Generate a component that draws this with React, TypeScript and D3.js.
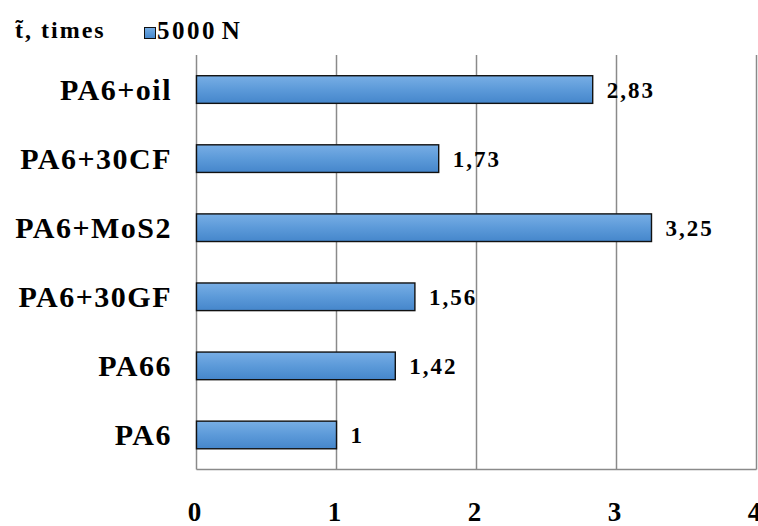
import React from "react";
import * as d3 from "d3";

// Categories listed top to bottom as they appear on the chart
const categories: string[] = ["PA6+oil", "PA6+30CF", "PA6+MoS2", "PA6+30GF", "PA66", "PA6"];
const values: number[] = [2.83, 1.73, 3.25, 1.56, 1.42, 1];
const valueLabels: string[] = ["2,83", "1,73", "3,25", "1,56", "1,42", "1"];
const xTicks: number[] = [0, 1, 2, 3, 4];
const seriesName = "5000 N";
const axisTitle = "t\u0303, times";

const W = 758;
const H = 526;
const plot = { left: 196.5, right: 756.5, top: 55, bottom: 469.5 };
const FONT = "Liberation Serif, DejaVu Serif, serif";

export default function App() {
  const x = d3.scaleLinear().domain([0, 4]).range([plot.left, plot.right]);
  const y = d3
    .scaleBand<string>()
    .domain(categories)
    .range([plot.top, plot.bottom])
    .paddingInner(0.6)
    .paddingOuter(0.3);

  const grid = "#8a8a8a";
  const txt: React.CSSProperties = { fontFamily: FONT, fontWeight: 700 };

  return (
    <svg
      width={W}
      height={H}
      style={{ position: "absolute", left: 0, top: 0, background: "#fff" }}
    >
      <defs>
        <linearGradient id="barFill" x1="0" y1="0" x2="0" y2="1">
          <stop offset="0" stopColor="#78aee5" />
          <stop offset="0.5" stopColor="#5c9ad9" />
          <stop offset="1" stopColor="#4586cb" />
        </linearGradient>
      </defs>
      <rect x={0} y={0} width={W} height={H} fill="#fff" />

      {/* vertical gridlines, including the left axis */}
      {xTicks.map((t) => (
        <line
          key={"g" + t}
          x1={x(t)}
          x2={x(t)}
          y1={plot.top}
          y2={plot.bottom}
          stroke={grid}
          strokeWidth={1.5}
        />
      ))}
      {/* bottom axis */}
      <line
        x1={plot.left}
        x2={plot.right}
        y1={plot.bottom}
        y2={plot.bottom}
        stroke={grid}
        strokeWidth={1.5}
      />

      {/* x tick labels */}
      {xTicks.map((t) => (
        <text
          key={"t" + t}
          x={x(t) - 2}
          y={521}
          fontSize={27}
          textAnchor="middle"
          fill="#000"
          style={txt}
        >
          {t}
        </text>
      ))}

      {/* bars */}
      {categories.map((c, i) => (
        <rect
          key={"b" + c}
          x={x(0)}
          y={y(c)!}
          width={x(values[i]) - x(0)}
          height={y.bandwidth()}
          fill="url(#barFill)"
          stroke="#111"
          strokeWidth={1.4}
        />
      ))}

      {/* value labels */}
      {categories.map((c, i) => (
        <text
          key={"v" + c}
          x={x(values[i]) + 14}
          y={y(c)! + y.bandwidth() / 2 + 8}
          fontSize={23}
          letterSpacing={2}
          fill="#000"
          style={txt}
        >
          {valueLabels[i]}
        </text>
      ))}

      {/* category labels */}
      {categories.map((c) => (
        <text
          key={"c" + c}
          x={172}
          y={y(c)! + y.bandwidth() / 2 + 10}
          fontSize={30}
          letterSpacing={1.5}
          textAnchor="end"
          fill="#000"
          style={txt}
        >
          {c}
        </text>
      ))}

      {/* axis title and legend */}
      <text x={15} y={38} fontSize={24} letterSpacing={2} fill="#000" style={txt}>
        {axisTitle}
      </text>
      <rect
        x={144.5}
        y={27.5}
        width={11}
        height={11}
        fill="url(#barFill)"
        stroke="#111"
        strokeWidth={1}
      />
      <text x={157} y={39} fontSize={25} letterSpacing={2.5} wordSpacing={-4} fill="#000" style={txt}>
        {seriesName}
      </text>
    </svg>
  );
}
